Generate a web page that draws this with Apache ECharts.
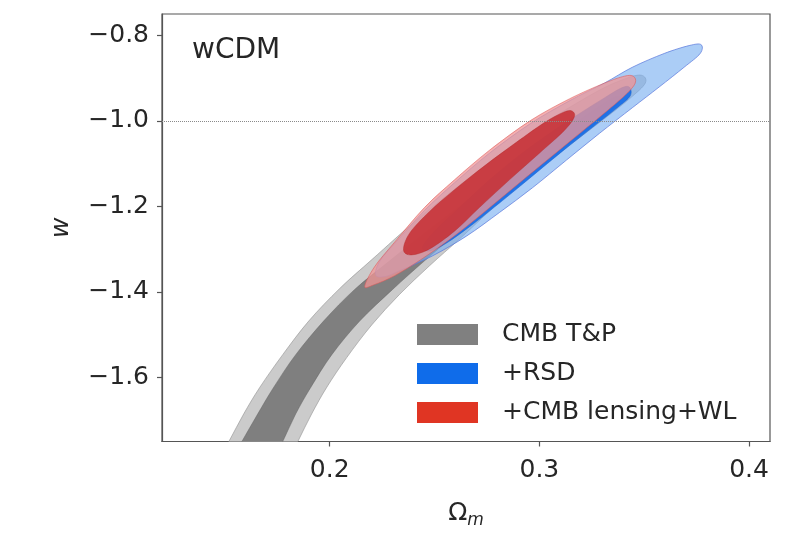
<!DOCTYPE html>
<html>
<head>
<meta charset="utf-8">
<script src="https://cdn.jsdelivr.net/npm/echarts@6/dist/echarts.min.js"></script>
<style>
html,body{margin:0;padding:0;background:#fff;}
#chart{width:805px;height:534px;}
</style>
</head>
<body>
<div id="chart"></div>
<script>
// ---- data (Omega_m, w) ----
const xTicks = [0.2, 0.3, 0.4];
const yTicks = [-1.6, -1.4, -1.2, -1.0, -0.8];
const seriesNames = ['CMB T&P', '+RSD', '+CMB lensing+WL'];
const referenceW = -1.0;

// CMB T&P 2-sigma contour
const cmb2 = [[0.1452,-1.8077],[0.1519,-1.75],[0.1590,-1.6853],[0.1667,-1.6230],[0.1776,-1.5468],[0.1900,-1.4682],[0.2048,-1.3920],[0.2205,-1.3228],[0.2429,-1.2258],[0.2714,-1.1149],[0.3000,-1.0133],[0.3262,-0.9348],[0.3405,-0.9024],[0.3486,-0.8932],[0.3505,-0.9117],[0.3429,-0.9486],[0.3286,-1.0040],[0.3071,-1.0849],[0.2833,-1.1796],[0.2629,-1.2719],[0.2476,-1.3389],[0.2333,-1.4059],[0.2200,-1.4775],[0.2081,-1.5537],[0.1986,-1.6230],[0.1914,-1.6853],[0.1848,-1.75],[0.1790,-1.8077]];
// CMB T&P 1-sigma contour
const cmb1 = [[0.1514,-1.8077],[0.1581,-1.75],[0.1657,-1.6853],[0.1733,-1.6230],[0.1838,-1.5468],[0.1971,-1.4682],[0.2119,-1.3943],[0.2286,-1.3274],[0.2476,-1.2535],[0.2714,-1.1657],[0.2976,-1.0733],[0.3214,-0.9902],[0.3343,-0.9486],[0.3386,-0.9440],[0.3371,-0.9625],[0.3262,-1.0087],[0.3071,-1.0803],[0.2810,-1.1842],[0.2619,-1.2581],[0.2452,-1.3274],[0.2300,-1.3943],[0.2143,-1.4682],[0.2010,-1.5468],[0.1910,-1.6230],[0.1838,-1.6853],[0.1776,-1.75],[0.1717,-1.8077]];
// +RSD 2-sigma
const rsd2 = [[0.2219,-1.3597],[0.2243,-1.3251],[0.2333,-1.2743],[0.2452,-1.2096],[0.2595,-1.1449],[0.2762,-1.0756],[0.2957,-1.0064],[0.3143,-0.9532],[0.3310,-0.9117],[0.3443,-0.8747],[0.3595,-0.8424],[0.3714,-0.8239],[0.3771,-0.8216],[0.3767,-0.8424],[0.3690,-0.8747],[0.3571,-0.9209],[0.3443,-0.9694],[0.3286,-1.0294],[0.3129,-1.0918],[0.2967,-1.1565],[0.2810,-1.2142],[0.2652,-1.2696],[0.2490,-1.3158],[0.2333,-1.3505],[0.2262,-1.3643]];
// +RSD 1-sigma
const rsd1 = [[0.2443,-1.2950],[0.2500,-1.2581],[0.2619,-1.2027],[0.2762,-1.1380],[0.2905,-1.0803],[0.3048,-1.0294],[0.3190,-0.9833],[0.3310,-0.9463],[0.3390,-0.9232],[0.3429,-0.9209],[0.3433,-0.9417],[0.3371,-0.9694],[0.3252,-1.0156],[0.3110,-1.0710],[0.2967,-1.1288],[0.2824,-1.1865],[0.2676,-1.2442],[0.2557,-1.2858],[0.2476,-1.3043]];
// +CMB lensing+WL 2-sigma
const wl2 = [[0.2167,-1.3874],[0.2214,-1.3412],[0.2310,-1.2835],[0.2452,-1.2027],[0.2595,-1.1380],[0.2762,-1.0687],[0.2957,-0.9994],[0.3143,-0.9486],[0.3310,-0.9117],[0.3405,-0.8955],[0.3448,-0.8955],[0.3457,-0.9117],[0.3410,-0.9394],[0.3295,-0.9879],[0.3157,-1.0433],[0.3014,-1.1010],[0.2871,-1.1588],[0.2729,-1.2165],[0.2581,-1.2742],[0.2433,-1.3251],[0.2310,-1.3620],[0.2214,-1.3828]];
// +CMB lensing+WL 1-sigma
const wl1 = [[0.2352,-1.3020],[0.2381,-1.2627],[0.2476,-1.2119],[0.2595,-1.1611],[0.2743,-1.1034],[0.2890,-1.0502],[0.3024,-1.0040],[0.3110,-0.9809],[0.3152,-0.9763],[0.3167,-0.9902],[0.3119,-1.0225],[0.3000,-1.0756],[0.2857,-1.1380],[0.2714,-1.2027],[0.2595,-1.2581],[0.2476,-1.2997],[0.2390,-1.3135]];

const FONT = '"DejaVu Sans", sans-serif';
const TXT = '#262626';

// closed Catmull-Rom spline through the projected pixel points
function splinePath(p) {
  const n = p.length;
  let d = 'M' + p[0][0].toFixed(2) + ' ' + p[0][1].toFixed(2);
  for (let i = 0; i < n; i++) {
    const p0 = p[(i - 1 + n) % n], p1 = p[i], p2 = p[(i + 1) % n], p3 = p[(i + 2) % n];
    const c1x = p1[0] + (p2[0] - p0[0]) / 6, c1y = p1[1] + (p2[1] - p0[1]) / 6;
    const c2x = p2[0] - (p3[0] - p1[0]) / 6, c2y = p2[1] - (p3[1] - p1[1]) / 6;
    d += 'C' + c1x.toFixed(2) + ' ' + c1y.toFixed(2) + ' ' + c2x.toFixed(2) + ' ' + c2y.toFixed(2) + ' ' + p2[0].toFixed(2) + ' ' + p2[1].toFixed(2);
  }
  return d + 'Z';
}

function contour(name, pts, fill, stroke, lw, extra) {
  const s = {
    name: name,
    type: 'custom',
    coordinateSystem: 'cartesian2d',
    clip: true,
    silent: true,
    data: pts,
    encode: { x: 0, y: 1 },
    renderItem: function (params, api) {
      if (params.dataIndex !== 0) return null;
      const p = pts.map(function (d) { return api.coord(d); });
      return {
        type: 'path',
        shape: { pathData: splinePath(p) },
        style: { fill: fill, stroke: stroke, lineWidth: lw }
      };
    }
  };
  if (extra) Object.assign(s, extra);
  return s;
}

const chart = echarts.init(document.getElementById('chart'), null, { renderer: 'canvas' });
chart.setOption({
  animation: false,
  backgroundColor: '#ffffff',
  title: {
    text: 'wCDM', left: 192, top: 37, padding: 0,
    textStyle: { fontFamily: FONT, fontSize: 28, fontWeight: 'normal', color: TXT }
  },
  grid: { left: 162, right: 35, top: 14, bottom: 88, show: true, borderColor: '#555', borderWidth: 1.2, backgroundColor: 'transparent' },
  legend: {
    orient: 'vertical', left: 417, top: 322, padding: 0,
    itemWidth: 61, itemHeight: 21, itemGap: 14,
    selectedMode: false,
    textStyle: { fontFamily: FONT, fontSize: 25, color: TXT, padding: [0, 0, 0, 19] },
    data: [
      { name: seriesNames[0], icon: 'rect', itemStyle: { color: '#808080' } },
      { name: seriesNames[1], icon: 'rect', itemStyle: { color: '#0f6cea' } },
      { name: seriesNames[2], icon: 'rect', itemStyle: { color: '#e03523' } }
    ]
  },
  xAxis: {
    type: 'value', min: 0.12, max: 0.41,
    name: '{o|Ω}{m|m}', nameLocation: 'middle', nameGap: 57,
    nameTextStyle: {
      rich: {
        o: { fontFamily: FONT, fontSize: 25, color: TXT, lineHeight: 30 },
        m: { fontFamily: FONT, fontSize: 17, fontStyle: 'italic', color: TXT, lineHeight: 30, padding: [14, 0, 0, 0] }
      }
    },
    axisLine: { show: true, lineStyle: { color: '#555', width: 1.2 } },
    axisTick: { show: true, inside: false, length: 5, customValues: xTicks, lineStyle: { color: '#555', width: 1.2 } },
    axisLabel: { customValues: xTicks, margin: 16, fontFamily: FONT, fontSize: 25, color: TXT, formatter: function (v) { return v.toFixed(1); } },
    splitLine: { show: false }
  },
  yAxis: {
    type: 'value', min: -1.75, max: -0.75,
    name: 'w', nameLocation: 'middle', nameGap: 88, nameRotate: 90,
    nameTextStyle: { fontFamily: FONT, fontSize: 25, fontStyle: 'italic', color: TXT },
    axisLine: { show: true, lineStyle: { color: '#555', width: 1.2 } },
    axisTick: { show: true, inside: false, length: 5, customValues: yTicks, lineStyle: { color: '#555', width: 1.2 } },
    axisLabel: { customValues: yTicks, margin: 13, fontFamily: FONT, fontSize: 25, color: TXT,
      formatter: function (v) { return (v < 0 ? '\u2212' : '') + Math.abs(v).toFixed(1); } },
    splitLine: { show: false }
  },
  series: [
    contour(seriesNames[0], cmb2, '#cbcbcb', 'rgba(150,150,150,0.8)', 0.8),
    contour(seriesNames[0], cmb1, '#7f7f7f', 'rgba(100,100,100,0.8)', 0.6),
    contour(seriesNames[1], rsd2, 'rgba(120,175,240,0.62)', 'rgba(90,120,220,0.7)', 1),
    contour(seriesNames[1], rsd1, 'rgba(20,108,232,0.9)', 'rgba(20,90,200,0.8)', 0.6),
    contour(seriesNames[2], wl2, 'rgba(240,150,150,0.75)', 'rgba(220,90,90,0.7)', 0.8),
    contour(seriesNames[2], wl1, 'rgba(198,48,52,0.88)', 'rgba(180,40,40,0.7)', 0.6, {
      markLine: {
        silent: true, symbol: ['none', 'none'], label: { show: false },
        lineStyle: { type: 'dotted', color: '#8a8a8a', width: 1 },
        data: [{ yAxis: referenceW }]
      }
    })
  ]
});
</script>
</body>
</html>
